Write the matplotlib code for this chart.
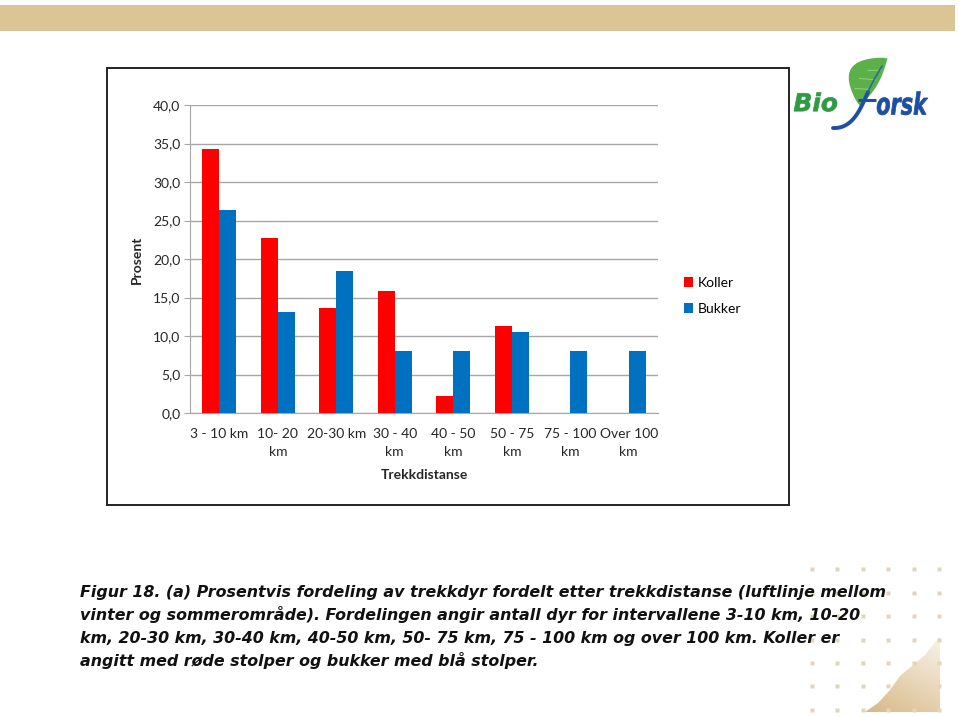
import numpy as np
import matplotlib
matplotlib.use("Agg")
import matplotlib.pyplot as plt
from matplotlib.patches import Rectangle, Polygon, PathPatch
from matplotlib.textpath import TextPath
from matplotlib.font_manager import FontProperties
from matplotlib.transforms import Affine2D

# data
categories = ["3 - 10 km", "10- 20\nkm", "20-30 km", "30 - 40\nkm", "40 - 50\nkm",
              "50 - 75\nkm", "75 - 100\nkm", "Over 100\nkm"]
koller = [34.3, 22.7, 13.6, 15.8, 2.2, 11.3, 0.0, 0.0]
bukker = [26.4, 13.1, 18.4, 8.0, 8.0, 10.5, 8.0, 8.0]
yticks = [0, 5, 10, 15, 20, 25, 30, 35, 40]

caption = ["Figur 18. (a) Prosentvis fordeling av trekkdyr fordelt etter trekkdistanse (luftlinje mellom",
           "vinter og sommerområde). Fordelingen angir antall dyr for intervallene 3-10 km, 10-20",
           "km, 20-30 km, 30-40 km, 40-50 km, 50- 75 km, 75 - 100 km og over 100 km. Koller er",
           "angitt med røde stolper og bukker med blå stolper."]

W, H = 959, 717
fig = plt.figure(figsize=(W / 100, H / 100), dpi=100)
fig.patch.set_facecolor("white")

# background axes in pixel coordinates
bg = fig.add_axes([0, 0, 1, 1])
bg.set_xlim(0, W)
bg.set_ylim(H, 0)
bg.axis("off")

# top banner
bg.add_patch(Rectangle((0, 5), 955, 26, color="#DDC494", lw=0))

# chart frame
bg.add_patch(Rectangle((107, 68), 682, 437, facecolor="white", edgecolor="#222222", lw=1.4))

# dotted decoration bottom right
for xd in [811.7, 837, 862.5, 888, 913.5, 939]:
    for yd in [569, 592.5, 616, 639.5, 663, 686, 709.5]:
        bg.plot(xd, yd, "s", ms=2.2, color="#E3D5BC", mec="none")

# tan shape with gradient
shape = Polygon([(865, 712), (878, 703), (890, 690), (900, 676), (912, 666),
                 (925, 655), (940, 636), (940, 712)], closed=True, facecolor="none", lw=0)
bg.add_patch(shape)
gx, gy = np.meshgrid(np.linspace(0, 1, 60), np.linspace(0, 1, 60))
grad = np.clip(0.35 * gx + 0.65 * gy, 0, 1)
c0 = np.array([0.84, 0.72, 0.52])
c1 = np.array([0.98, 0.96, 0.93])
img = c0[None, None, :] * (1 - grad[..., None]) + c1[None, None, :] * grad[..., None]
im = bg.imshow(img, extent=(862, 942, 634, 714), origin="upper", zorder=1)
im.set_clip_path(shape)
bg.set_xlim(0, W)
bg.set_ylim(H, 0)


def place_text(s, box, color, prop, thick=0.0):
    # fit a text path into a pixel box (x0, y0, x1, y1) in bg coords
    tp = TextPath((0, 0), s, size=10, prop=prop)
    ext = tp.get_extents()
    x0, y0, x1, y1 = box
    sx = (x1 - x0) / ext.width
    sy = (y1 - y0) / ext.height
    tr = Affine2D().translate(-ext.x0, -ext.y0).scale(sx, -sy).translate(x0, y1)
    bg.add_patch(PathPatch(tr.transform_path(tp), facecolor=color, edgecolor=color,
                           lw=thick, zorder=3))


# logo
logo_font = FontProperties(family="DejaVu Sans", weight="bold", style="italic")
place_text("Bio", (794, 92.5, 837, 111.5), "#2F9A44", logo_font, thick=0.5)
place_text("orsk", (877, 91.5, 928, 115), "#1F4FA0", logo_font, thick=0.5)
# leaf
t = np.linspace(0, np.pi, 40)
lx = np.concatenate([np.linspace(0, 1, 40), np.linspace(1, 0, 40)])
ly = np.concatenate([0.48 * np.sin(t) ** 0.8, -0.08 * np.sin(t)])
ang = np.deg2rad(60)
L = 55
px = 860 + L * (lx * np.cos(ang) - ly * np.sin(ang))
py = 106 - L * (lx * np.sin(ang) + ly * np.cos(ang))
bg.add_patch(Polygon(np.column_stack([px, py]), closed=True, color="#5CB04A", lw=0, zorder=3))
for f0, f1 in [(0.35, 0.24), (0.55, 0.26), (0.75, 0.2)]:
    bg.plot([860 + L * f0 * np.cos(ang), 860 + L * (f0 - 0.12) * np.cos(ang) - L * f1 * np.sin(ang)],
            [106 - L * f0 * np.sin(ang), 106 - L * (f0 - 0.12) * np.sin(ang) - L * f1 * np.cos(ang)],
            color="#8CCB78", lw=0.8, zorder=4)
# stylised f stroke
s = np.linspace(0, 1, 50)[:, None]
P = np.array([[833, 128], [853, 129], [861, 108], [868, 92]])
c1b = ((1 - s) ** 3 * P[0] + 3 * (1 - s) ** 2 * s * P[1] + 3 * (1 - s) * s ** 2 * P[2] + s ** 3 * P[3])
Q = np.array([[868, 92], [872, 83], [876, 76], [882, 66]])
c2b = ((1 - s) ** 3 * Q[0] + 3 * (1 - s) ** 2 * s * Q[1] + 3 * (1 - s) * s ** 2 * Q[2] + s ** 3 * Q[3])
bg.plot(c1b[:, 0], c1b[:, 1], color="#1F4FA0", lw=2.8, zorder=5, solid_capstyle="round")
bg.plot(c2b[:, 0], c2b[:, 1], color="#2A6A9A", lw=1.2, zorder=5, solid_capstyle="round")
bg.plot([858, 876], [100, 100], color="#1F4FA0", lw=2.2, zorder=5, solid_capstyle="butt")

# caption
for i, line in enumerate(caption):
    bg.text(80, 597 + 23 * i, line, fontsize=11.4, family="DejaVu Sans", style="italic",
            weight="bold", va="baseline", ha="left", color="#111111")

# bar chart
ax = fig.add_axes([190 / W, 1 - 413 / H, 468 / W, 308 / H])
ax.set_facecolor("white")
x = np.arange(len(categories))
bw = 0.29
b1 = ax.bar(x - bw / 2, koller, bw, color="#FF0000", label="Koller", zorder=3)
b2 = ax.bar(x + bw / 2, bukker, bw, color="#0070C0", label="Bukker", zorder=3)
ax.set_xlim(-0.5, len(categories) - 0.5)
ax.set_ylim(0, 40)
ax.set_yticks(yticks)
ax.set_yticklabels([f"{v:.1f}".replace(".", ",") for v in yticks])
ax.set_xticks(x)
ax.set_xticklabels(categories, linespacing=1.65)
ax.grid(axis="y", color="#A6A6A6", lw=1, zorder=0)
for sp in ["top", "right"]:
    ax.spines[sp].set_visible(False)
for sp in ["left", "bottom"]:
    ax.spines[sp].set_color("#A6A6A6")
ax.tick_params(axis="y", length=4, color="#A6A6A6", labelsize=10, labelcolor="#262626", pad=3)
ax.tick_params(axis="x", length=0, labelsize=10, labelcolor="#262626", pad=10.5)
for lab in ax.get_xticklabels() + ax.get_yticklabels():
    lab.set_family("Lato")
ax.set_ylabel("Prosent", family="Lato", weight="bold", fontsize=10, color="#262626")
ax.yaxis.set_label_coords(-0.10, 0.497)
ax.set_xlabel("Trekkdistanse", family="Lato", weight="bold", fontsize=10, color="#262626")
ax.xaxis.set_label_coords(0.5, -0.183)

fig.legend(handles=[b1, b2], loc="upper left", bbox_to_anchor=(671 / W, 1 - 264 / H),
           frameon=False, handlelength=0.7, handleheight=0.7, handletextpad=0.3,
           labelspacing=1.05, prop={"family": "Lato", "size": 10})

fig.savefig("out.png", dpi=100)
